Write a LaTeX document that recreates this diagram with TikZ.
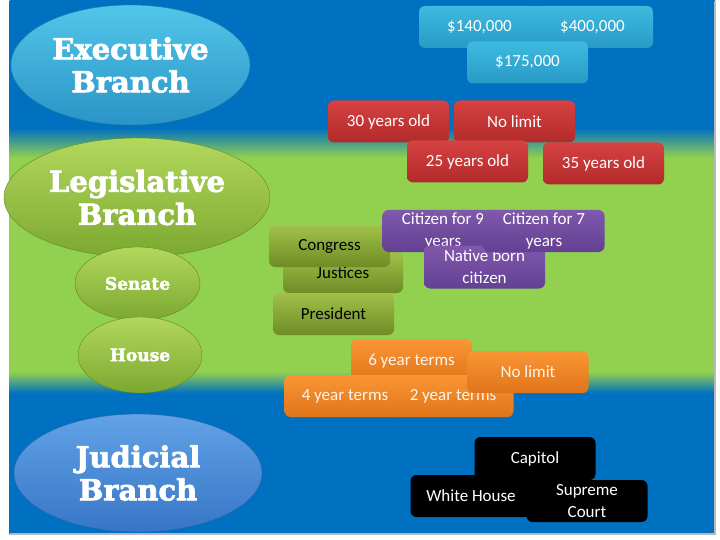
\documentclass[tikz,border=0pt]{standalone}
\usepackage{fontspec}
\setmainfont{Carlito}
\newfontfamily\branchfont[BoldFeatures={FakeBold=2.5}]{DejaVu Serif}
\usetikzlibrary{shapes.geometric}
\definecolor{sky_blue}{RGB}{0,112,192}
\definecolor{band_green}{RGB}{146,208,80}
\definecolor{exec_top}{RGB}{82,198,234}
\definecolor{exec_bottom}{RGB}{42,148,198}
\definecolor{leg_top}{RGB}{178,216,92}
\definecolor{leg_bottom}{RGB}{124,168,48}
\definecolor{jud_top}{RGB}{98,162,230}
\definecolor{jud_bottom}{RGB}{54,118,198}
\definecolor{pay_top}{RGB}{62,186,224}
\definecolor{pay_bottom}{RGB}{40,154,198}
\definecolor{age_top}{RGB}{214,66,66}
\definecolor{age_bottom}{RGB}{178,42,42}
\definecolor{role_top}{RGB}{162,192,72}
\definecolor{role_bottom}{RGB}{110,140,38}
\definecolor{cit_top}{RGB}{128,88,172}
\definecolor{cit_bottom}{RGB}{98,64,146}
\definecolor{term_top}{RGB}{250,150,52}
\definecolor{term_bottom}{RGB}{224,116,26}
% blue page with a green band across the middle
\pgfdeclareverticalshading{backdrop}{100bp}{
  color(0bp)=(sky_blue); color(38.2bp)=(sky_blue);
  color(40.2bp)=(band_green); color(60.3bp)=(band_green);
  color(63.1bp)=(sky_blue); color(100bp)=(sky_blue)}
\tikzset{
  branch/.style={
    ellipse, inner sep=0pt, align=center, text=white,
    font=\branchfont\bfseries\fontsize{29}{33}\selectfont
  },
  subbranch/.style={
    branch, font=\branchfont\bfseries\fontsize{17}{20}\selectfont,
    draw=leg_bottom!80!black, top color=leg_top, bottom color=leg_bottom
  },
  fact/.style={
    rounded corners=6pt, minimum width=121pt, minimum height=42pt,
    inner sep=2pt, align=center, text=white,
    font=\fontsize{17}{22}\selectfont
  },
  pay/.style={fact, top color=pay_top, bottom color=pay_bottom},
  age/.style={fact, top color=age_top, bottom color=age_bottom},
  role/.style={fact, top color=role_top, bottom color=role_bottom, text=black},
  citizen/.style={fact, top color=cit_top, bottom color=cit_bottom},
  term/.style={fact, top color=term_top, bottom color=term_bottom, text=white!92!orange},
  place/.style={fact, fill=black}
}

\begin{document}
\begin{tikzpicture}[x=1pt, y=-1pt]
\useasboundingbox (0,0) rectangle (720,540);

% background
\shade[shading=backdrop] (9.5,1) rectangle (715,534);
\draw[gray!55, line width=1.2pt] (715,1) -- (715,534) -- (9.5,534);

% branches
\node[branch, minimum width=239pt, minimum height=120pt, draw=exec_bottom!85!black,
      top color=exec_top, bottom color=exec_bottom] (exec) at (130.5,65) {Executive\\Branch};
\node[branch, minimum width=266pt, minimum height=119pt, draw=leg_bottom!80!black,
      top color=leg_top, bottom color=leg_bottom] (leg) at (137,197.5) {Legislative\\Branch};
\node[subbranch, minimum width=125pt, minimum height=73pt] (senate) at (137.5,283.5) {Senate};
\node[subbranch, minimum width=124pt, minimum height=76pt] (house) at (140,355) {House};
\node[branch, minimum width=248pt, minimum height=118pt, draw=jud_bottom!85!black,
      top color=jud_top, bottom color=jud_bottom] (jud) at (138,473) {Judicial\\Branch};

% salaries
\node[pay] (pay_low) at (479.5,27) {\$140,000};
\node[pay] (pay_high) at (592.5,27) {\$400,000};
\node[pay] (pay_mid) at (527.5,62.5) {\$175,000};

% ages
\node[age] (age_senate) at (388.5,121.5) {30 years old};
\node[age] (age_court) at (514.5,121.5) {No limit};
\node[age] (age_house) at (467.5,161.5) {25 years old};
\node[age] (age_pres) at (603.5,163.5) {35 years old};

% who serves
\node[role, minimum width=120pt, minimum height=41pt] (justices) at (343,272.5) {Justices};
\node[role, minimum height=41pt] (congress) at (329.5,246.5) {Congress};
\node[role] (president) at (333.5,314) {President};

% citizenship
\node[citizen] (cit_nine) at (443,231) {Citizen for 9\\years};
\node[citizen, minimum height=43pt] (native) at (484.5,267) {Native born\\citizen};
\node[citizen] (cit_seven) at (544,231) {Citizen for 7\\years};

% terms
\node[term, minimum height=44pt] (term_six) at (411.5,361) {6 year terms};
\node[term] (term_four) at (345,396) {4 year terms};
\node[term] (term_two) at (453,396) {2 year terms};
\node[term] (term_life) at (528,372) {No limit};

% buildings
\node[place, minimum height=43pt] (capitol) at (535,458.5) {Capitol};
\node[place] (white_house) at (471,496) {White House};
\node[place] (court) at (587,501) {Supreme\\Court};

\end{tikzpicture}
\end{document}
